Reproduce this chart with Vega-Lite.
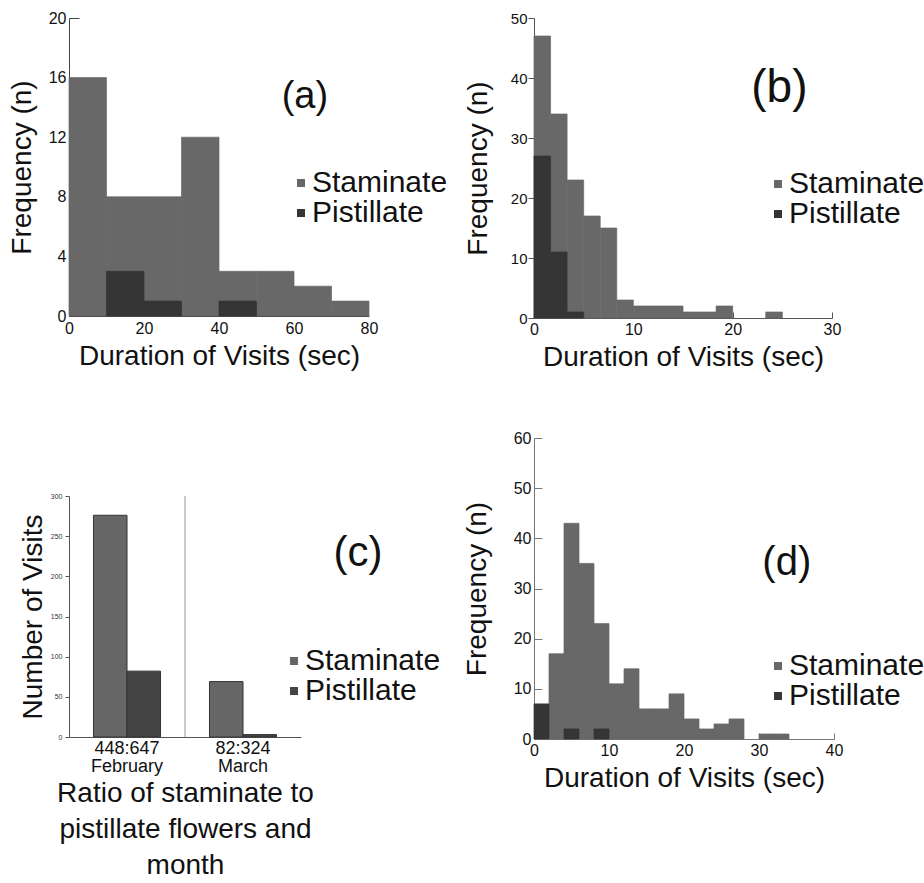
{
  "$schema": "https://vega.github.io/schema/vega-lite/v6.json",
  "padding": {"left": 8, "top": 10, "right": 0, "bottom": 0},
  "config": {
    "font": "Liberation Sans",
    "view": {"stroke": null},
    "axis": {"grid": false, "domainColor": "#444", "tickColor": "#444", "labelColor": "#111", "titleColor": "#111", "titleFontWeight": "normal", "labelFlush": false, "labelOverlap": false, "labelFontSize": 16, "titleFontSize": 28},
    "legend": {"orient": "none", "title": null, "symbolType": "square", "symbolSize": 64, "symbolStrokeWidth": 0, "labelFontSize": 30, "labelOffset": -4, "rowPadding": -4, "labelColor": "#111"}
  },
  "datasets": {
    "a": [
      {"start": 0, "end": 10, "count": 16, "sex": "Staminate"},
      {"start": 10, "end": 20, "count": 8, "sex": "Staminate"},
      {"start": 20, "end": 30, "count": 8, "sex": "Staminate"},
      {"start": 30, "end": 40, "count": 12, "sex": "Staminate"},
      {"start": 40, "end": 50, "count": 3, "sex": "Staminate"},
      {"start": 50, "end": 60, "count": 3, "sex": "Staminate"},
      {"start": 60, "end": 70, "count": 2, "sex": "Staminate"},
      {"start": 70, "end": 80, "count": 1, "sex": "Staminate"},
      {"start": 10, "end": 20, "count": 3, "sex": "Pistillate"},
      {"start": 20, "end": 30, "count": 1, "sex": "Pistillate"},
      {"start": 40, "end": 50, "count": 1, "sex": "Pistillate"}
    ],
    "b": [
      {"start": 0, "end": 1.667, "count": 47, "sex": "Staminate"},
      {"start": 1.667, "end": 3.333, "count": 34, "sex": "Staminate"},
      {"start": 3.333, "end": 5, "count": 23, "sex": "Staminate"},
      {"start": 5, "end": 6.667, "count": 17, "sex": "Staminate"},
      {"start": 6.667, "end": 8.333, "count": 15, "sex": "Staminate"},
      {"start": 8.333, "end": 10, "count": 3, "sex": "Staminate"},
      {"start": 10, "end": 11.667, "count": 2, "sex": "Staminate"},
      {"start": 11.667, "end": 13.333, "count": 2, "sex": "Staminate"},
      {"start": 13.333, "end": 15, "count": 2, "sex": "Staminate"},
      {"start": 15, "end": 16.667, "count": 1, "sex": "Staminate"},
      {"start": 16.667, "end": 18.333, "count": 1, "sex": "Staminate"},
      {"start": 18.333, "end": 20, "count": 2, "sex": "Staminate"},
      {"start": 23.333, "end": 25, "count": 1, "sex": "Staminate"},
      {"start": 0, "end": 1.667, "count": 27, "sex": "Pistillate"},
      {"start": 1.667, "end": 3.333, "count": 11, "sex": "Pistillate"},
      {"start": 3.333, "end": 5, "count": 1, "sex": "Pistillate"}
    ],
    "c": [
      {"month": "448:647|February", "sex": "Staminate", "visits": 276},
      {"month": "448:647|February", "sex": "Pistillate", "visits": 82},
      {"month": "82:324|March", "sex": "Staminate", "visits": 69},
      {"month": "82:324|March", "sex": "Pistillate", "visits": 3}
    ],
    "d": [
      {"start": 2, "end": 4, "count": 17, "sex": "Staminate"},
      {"start": 4, "end": 6, "count": 43, "sex": "Staminate"},
      {"start": 6, "end": 8, "count": 35, "sex": "Staminate"},
      {"start": 8, "end": 10, "count": 23, "sex": "Staminate"},
      {"start": 10, "end": 12, "count": 11, "sex": "Staminate"},
      {"start": 12, "end": 14, "count": 14, "sex": "Staminate"},
      {"start": 14, "end": 16, "count": 6, "sex": "Staminate"},
      {"start": 16, "end": 18, "count": 6, "sex": "Staminate"},
      {"start": 18, "end": 20, "count": 9, "sex": "Staminate"},
      {"start": 20, "end": 22, "count": 4, "sex": "Staminate"},
      {"start": 22, "end": 24, "count": 2, "sex": "Staminate"},
      {"start": 24, "end": 26, "count": 3, "sex": "Staminate"},
      {"start": 26, "end": 28, "count": 4, "sex": "Staminate"},
      {"start": 30, "end": 32, "count": 1, "sex": "Staminate"},
      {"start": 32, "end": 34, "count": 1, "sex": "Staminate"},
      {"start": 0, "end": 2, "count": 7, "sex": "Pistillate"},
      {"start": 4, "end": 6, "count": 2, "sex": "Pistillate"},
      {"start": 8, "end": 10, "count": 2, "sex": "Pistillate"}
    ]
  },
  "resolve": {"scale": {"color": "independent"}, "legend": {"color": "independent"}},
  "spacing": 15,
  "hconcat": [
    {
      "spacing": 122,
      "resolve": {"scale": {"color": "independent"}, "legend": {"color": "independent"}},
      "vconcat": [
        {
          "width": 300, "height": 298,
          "layer": [
            {
              "data": {"name": "a"},
              "transform": [{"filter": "datum.sex === 'Staminate'"}],
              "mark": {"type": "rect", "stroke": "#686868", "strokeWidth": 0.7},
              "encoding": {
                "x": {"field": "start", "type": "quantitative", "scale": {"domain": [0, 80], "nice": false},
                      "axis": {"title": "Duration of Visits (sec)", "values": [0, 10, 20, 30, 40, 50, 60, 70, 80], "ticks": false, "labelPadding": 4, "titlePadding": 6}},
                "x2": {"field": "end"},
                "y": {"field": "count", "type": "quantitative", "scale": {"domain": [0, 20], "nice": false},
                      "axis": {"title": "Frequency (n)", "values": [0, 4, 8, 12, 16, 20], "tickSize": -10, "labelPadding": 13, "titlePadding": 12}},
                "y2": {"datum": 0},
                "color": {"field": "sex", "type": "nominal", "scale": {"domain": ["Staminate", "Pistillate"], "range": ["#686868", "#353535"]},
                          "legend": {"legendX": 217, "legendY": 150}}
              }
            },
            {
              "data": {"name": "a"},
              "transform": [{"filter": "datum.sex === 'Pistillate'"}],
              "mark": {"type": "rect", "stroke": "#353535", "strokeWidth": 0.7},
              "encoding": {
                "x": {"field": "start", "type": "quantitative"},
                "x2": {"field": "end"},
                "y": {"field": "count", "type": "quantitative"},
                "y2": {"datum": 0},
                "color": {"field": "sex", "type": "nominal"}
              }
            },
            {
              "data": {"values": [{"label": "(a)"}]},
              "mark": {"type": "text", "fontSize": 38, "color": "#111"},
              "encoding": {"x": {"datum": 62.9, "type": "quantitative"}, "y": {"datum": 14.7, "type": "quantitative"}, "text": {"field": "label"}}
            }
          ]
        },
        {
          "width": 232, "height": 241,
          "layer": [
            {
              "layer": [
                {
                  "data": {"name": "c"},
                  "mark": {"type": "bar", "stroke": "#333", "strokeWidth": 1},
                  "encoding": {
                    "x": {"field": "month", "type": "nominal", "sort": null, "scale": {"paddingInner": 0, "paddingOuter": 0},
                          "axis": {"title": ["Ratio of staminate to", "pistillate flowers and", "month"], "titleLineHeight": 36, "labelExpr": "split(datum.label, '|')", "labelAngle": 0, "labelFontSize": 18, "labelLineHeight": 18, "ticks": false, "labelPadding": 2, "titlePadding": 4, "domainColor": "#555"}},
                    "xOffset": {"field": "sex", "type": "nominal", "sort": ["Staminate", "Pistillate"], "scale": {"paddingInner": 0, "paddingOuter": 0.73}},
                    "y": {"field": "visits", "type": "quantitative", "stack": null, "scale": {"domain": [0, 300], "nice": false},
                          "axis": {"title": "Number of Visits", "values": [0, 50, 100, 150, 200, 250, 300], "labelFontSize": 7, "tickSize": 4, "labelPadding": 3, "titlePadding": 3, "domainColor": "#555", "tickColor": "#555", "labelColor": "#333"}},
                    "color": {"field": "sex", "type": "nominal", "scale": {"domain": ["Staminate", "Pistillate"], "range": ["#666666", "#444444"]},
                              "legend": {"legendX": 210, "legendY": 150}}
                  }
                },
                {
                  "data": {"values": [{"month": "82:324|March"}]},
                  "mark": {"type": "rule", "color": "#999", "strokeWidth": 1},
                  "encoding": {"x": {"field": "month", "type": "nominal", "bandPosition": 0}}
                }
              ]
            },
            {
              "data": {"values": [{"label": "(c)"}]},
              "mark": {"type": "text", "fontSize": 42, "color": "#111"},
              "encoding": {"x": {"datum": 1.246, "type": "quantitative", "scale": {"domain": [0, 1]}, "axis": null}, "y": {"datum": 229, "type": "quantitative"}, "text": {"field": "label"}}
            }
          ],
          "resolve": {"scale": {"x": "independent"}, "axis": {"x": "independent"}}
        }
      ]
    },
    {
      "spacing": 59,
      "resolve": {"scale": {"color": "independent"}, "legend": {"color": "independent"}},
      "vconcat": [
        {
          "width": 298, "height": 300,
          "layer": [
            {
              "data": {"name": "b"},
              "transform": [{"filter": "datum.sex === 'Staminate'"}],
              "mark": {"type": "rect", "stroke": "#686868", "strokeWidth": 0.7},
              "encoding": {
                "x": {"field": "start", "type": "quantitative", "scale": {"domain": [0, 30], "nice": false},
                      "axis": {"title": "Duration of Visits (sec)", "values": [0, 10, 20, 30], "tickSize": -6, "labelPadding": 9, "titlePadding": 6, "domainColor": "#555", "tickColor": "#555"}},
                "x2": {"field": "end"},
                "y": {"field": "count", "type": "quantitative", "scale": {"domain": [0, 50], "nice": false},
                      "axis": {"title": "Frequency (n)", "values": [0, 5, 10, 15, 20, 25, 30, 35, 40, 45, 50], "tickSize": 6, "labelPadding": 1, "labelFontSize": 15, "titlePadding": 18, "domainColor": "#555", "tickColor": "#555"}},
                "y2": {"datum": 0},
                "color": {"field": "sex", "type": "nominal", "scale": {"domain": ["Staminate", "Pistillate"], "range": ["#686868", "#353535"]},
                          "legend": {"legendX": 229, "legendY": 151}}
              }
            },
            {
              "data": {"name": "b"},
              "transform": [{"filter": "datum.sex === 'Pistillate'"}],
              "mark": {"type": "rect", "stroke": "#353535", "strokeWidth": 0.7},
              "encoding": {
                "x": {"field": "start", "type": "quantitative"},
                "x2": {"field": "end"},
                "y": {"field": "count", "type": "quantitative"},
                "y2": {"datum": 0},
                "color": {"field": "sex", "type": "nominal"}
              }
            },
            {
              "data": {"values": [{"label": "(b)"}]},
              "mark": {"type": "text", "fontSize": 46, "color": "#111"},
              "encoding": {"x": {"datum": 24.7, "type": "quantitative"}, "y": {"datum": 38.3, "type": "quantitative"}, "text": {"field": "label"}}
            }
          ]
        },
        {
          "width": 300, "height": 301,
          "layer": [
            {
              "data": {"name": "d"},
              "transform": [{"filter": "datum.sex === 'Staminate'"}],
              "mark": {"type": "rect", "stroke": "#686868", "strokeWidth": 0.7},
              "encoding": {
                "x": {"field": "start", "type": "quantitative", "scale": {"domain": [0, 40], "nice": false},
                      "axis": {"title": "Duration of Visits (sec)", "values": [0, 10, 20, 30, 40], "tickSize": -6, "labelPadding": 9, "titlePadding": 6, "domainColor": "#777", "tickColor": "#777"}},
                "x2": {"field": "end"},
                "y": {"field": "count", "type": "quantitative", "scale": {"domain": [0, 60], "nice": false},
                      "axis": {"title": "Frequency (n)", "values": [0, 10, 20, 30, 40, 50, 60], "tickSize": -8, "labelPadding": 11, "titlePadding": 22, "domainColor": "#777", "tickColor": "#777"}},
                "y2": {"datum": 0},
                "color": {"field": "sex", "type": "nominal", "scale": {"domain": ["Staminate", "Pistillate"], "range": ["#686868", "#353535"]},
                          "legend": {"legendX": 229, "legendY": 213}}
              }
            },
            {
              "data": {"name": "d"},
              "transform": [{"filter": "datum.sex === 'Pistillate'"}],
              "mark": {"type": "rect", "stroke": "#353535", "strokeWidth": 0.7},
              "encoding": {
                "x": {"field": "start", "type": "quantitative"},
                "x2": {"field": "end"},
                "y": {"field": "count", "type": "quantitative"},
                "y2": {"datum": 0},
                "color": {"field": "sex", "type": "nominal"}
              }
            },
            {
              "data": {"values": [{"label": "(d)"}]},
              "mark": {"type": "text", "fontSize": 40, "color": "#111"},
              "encoding": {"x": {"datum": 33.7, "type": "quantitative"}, "y": {"datum": 35.1, "type": "quantitative"}, "text": {"field": "label"}}
            }
          ]
        }
      ]
    }
  ]
}
